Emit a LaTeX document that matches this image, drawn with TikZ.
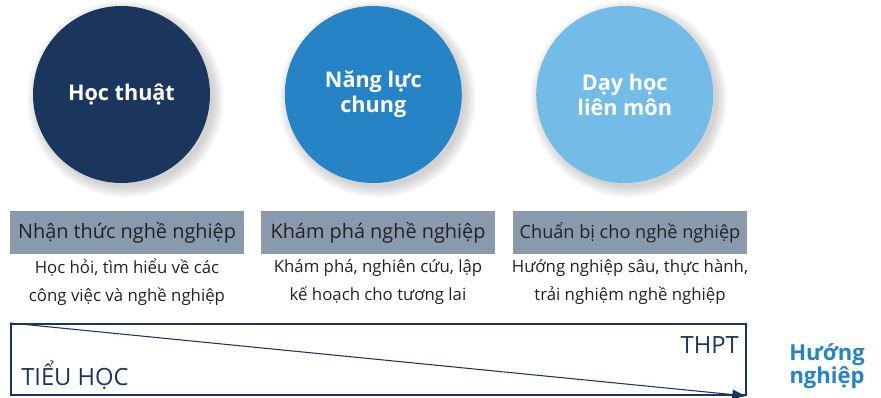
\documentclass[tikz,border=0pt]{standalone}
\usepackage{fontspec}
\setmainfont{Open Sans}
\usetikzlibrary{positioning,arrows.meta}

\definecolor{navy}{HTML}{1B365D}
\definecolor{midblue}{HTML}{2683C6}
\definecolor{lightblue}{HTML}{74BCE8}
\definecolor{boxgray}{HTML}{8A9AAD}
\definecolor{inkdark}{HTML}{222222}

\tikzset{>=latex}

\begin{document}
\begin{tikzpicture}[x=0.75pt,y=-0.75pt]

	\tikzstyle{circ} = [circle, minimum size=132.75pt, inner sep=0pt, text=white, align=center, font=\bfseries\fontsize{16.2}{18.7}\selectfont]
	\tikzstyle{stage} = [rectangle, fill=boxgray, minimum width=175.5pt, minimum height=32.25pt, inner sep=0pt, text=inkdark, font=\fontsize{14.9}{17}\selectfont]
	\tikzstyle{desc} = [align=center, text=inkdark, font=\fontsize{12.6}{21}\selectfont]
	\tikzstyle{level} = [text=navy, inner sep=0pt, font=\fontsize{17.8}{20}\selectfont]

	\useasboundingbox (0,0) rectangle (881,397);

%------------------------------------------------------------
	% soft shadows under the circles
	\foreach \cx in {121.5,373.3,624.7}
		\foreach \r in {88,89.5,...,99}
			\fill[black, opacity=0.025] (\cx+4,99) circle[radius=\r*0.75pt];

	\node[circ, fill=navy]      (c1) at (121.5,94.5) {Học thuật};
	\node[circ, fill=midblue]   (c2) at (373.3,94.5) {Năng lực\\chung};
	\node[circ, fill=lightblue] (c3) at (624.7,94.5) {Dạy học\\liên môn};

%------------------------------------------------------------
	\node[stage] (s1) at (127,232.5) {Nhận thức nghề nghiệp};
	\node[stage] (s2) at (378,232.5) {Khám phá nghề nghiệp};
	\node[stage, font=\fontsize{13.6}{16}\selectfont] (s3) at (630,232.5) {Chuẩn bị cho nghề nghiệp};

	\node[desc] (d1) at (127,282) {Học hỏi, tìm hiểu về các\\công việc và nghề nghiệp};
	\node[desc] (d2) at (378,282) {Khám phá, nghiên cứu, lập\\kế hoạch cho tương lai};
	\node[desc] (d3) at (630,282) {Hướng nghiệp sâu, thực hành,\\trải nghiệm nghề nghiệp};

%------------------------------------------------------------
	\node[draw=navy, line width=1.5pt, minimum width=551.25pt, minimum height=53.25pt, inner sep=0pt] (bar) at (378.5,359.5) {};
	\draw[navy, line width=0.8pt, -{Latex[length=11pt,width=8pt]}] (bar.north west) -- (bar.south east);

	\node[level, anchor=west] (low)  at (21,375) {TIỂU HỌC};
	\node[level, anchor=east] (high) at (739,345) {THPT};

	\node[align=center, text=midblue, font=\bfseries\fontsize{16.5}{17.5}\selectfont] (goal) at (827,366) {Hướng\\nghiệp};

\end{tikzpicture}
\end{document}
